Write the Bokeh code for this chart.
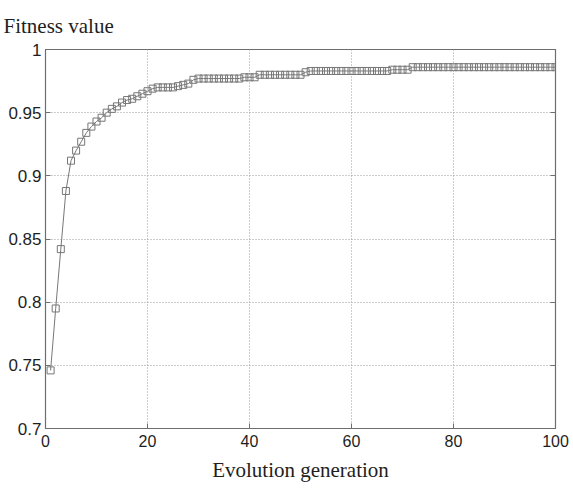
from bokeh.plotting import figure
from bokeh.models import LinearAxis, FixedTicker, NumeralTickFormatter, Range1d
from bokeh.embed import file_html
from bokeh.resources import INLINE

generations = list(range(1, 101))
fitness = (
    [0.746, 0.795, 0.842, 0.888, 0.912, 0.920, 0.927, 0.934, 0.939, 0.943,
     0.946, 0.950, 0.953, 0.955, 0.958, 0.960, 0.961, 0.963, 0.965, 0.967,
     0.969, 0.970, 0.970, 0.970, 0.970, 0.971, 0.972, 0.973, 0.976, 0.977]
    + [0.977] * 8          # 31-38
    + [0.978] * 3          # 39-41
    + [0.980] * 9          # 42-50
    + [0.982]              # 51
    + [0.983] * 16         # 52-67
    + [0.984] * 4          # 68-71
    + [0.986] * 29         # 72-100
)
x_ticks = [0, 20, 40, 60, 80, 100]
y_ticks = [0.7, 0.75, 0.8, 0.85, 0.9, 0.95, 1.0]

AX = "#6e6e6e"
TXT = "#1e1e1e"
p = figure(width=570, height=484, output_backend="svg", toolbar_location=None,
           x_range=Range1d(0, 100), y_range=Range1d(0.7, 1.0),
           min_border_left=45, min_border_right=15, min_border_top=48, min_border_bottom=50,
           title="Fitness value")
p.title.text_font = "Liberation Serif"
p.title.text_font_size = "21px"
p.title.text_font_style = "normal"
p.title.align = "left"
p.title.offset = -42
p.title.standoff = 23
p.title.text_color = TXT
p.outline_line_color = AX
p.outline_line_width = 1.2
p.background_fill_color = "white"
p.border_fill_color = "white"

for ax, fs in ((p.xaxis[0], "16px"), (p.yaxis[0], "17px")):
    ax.major_tick_in = 5
    ax.major_tick_out = 0
    ax.minor_tick_in = 0
    ax.minor_tick_out = 0
    ax.axis_line_color = AX
    ax.major_tick_line_color = AX
    ax.major_label_text_font = "Liberation Sans"
    ax.major_label_text_font_size = fs
    ax.major_label_text_color = TXT

p.xaxis[0].major_label_standoff = 6
p.yaxis[0].major_label_standoff = 4
p.xaxis[0].ticker = FixedTicker(ticks=x_ticks)
p.yaxis[0].ticker = FixedTicker(ticks=y_ticks)
p.yaxis[0].formatter = NumeralTickFormatter(format="0.[00]")
p.xaxis[0].axis_label = "Evolution generation"
p.xaxis[0].axis_label_text_font = "Liberation Serif"
p.xaxis[0].axis_label_text_font_size = "21px"
p.xaxis[0].axis_label_text_font_style = "normal"
p.xaxis[0].axis_label_text_color = TXT
p.xaxis[0].axis_label_standoff = 8

right = LinearAxis(ticker=FixedTicker(ticks=y_ticks),
                   major_label_overrides={t: "" for t in y_ticks},
                   major_tick_in=5, major_tick_out=0, minor_tick_in=0, minor_tick_out=0,
                   axis_line_color=AX, major_tick_line_color=AX, major_label_standoff=0)
p.add_layout(right, "right")

p.xgrid.ticker = FixedTicker(ticks=x_ticks)
p.ygrid.ticker = FixedTicker(ticks=y_ticks)
for g in (p.xgrid[0], p.ygrid[0]):
    g.grid_line_color = "#9a9a9a"
    g.grid_line_dash = "1 2"
    g.grid_line_width = 1

p.line(generations, fitness, line_color="#777777", line_width=1)
p.scatter(generations, fitness, marker="square", size=7, fill_color="white",
          fill_alpha=0.0, line_color="#777777", line_width=1)

open("out.html", "w").write(file_html(p, INLINE))
